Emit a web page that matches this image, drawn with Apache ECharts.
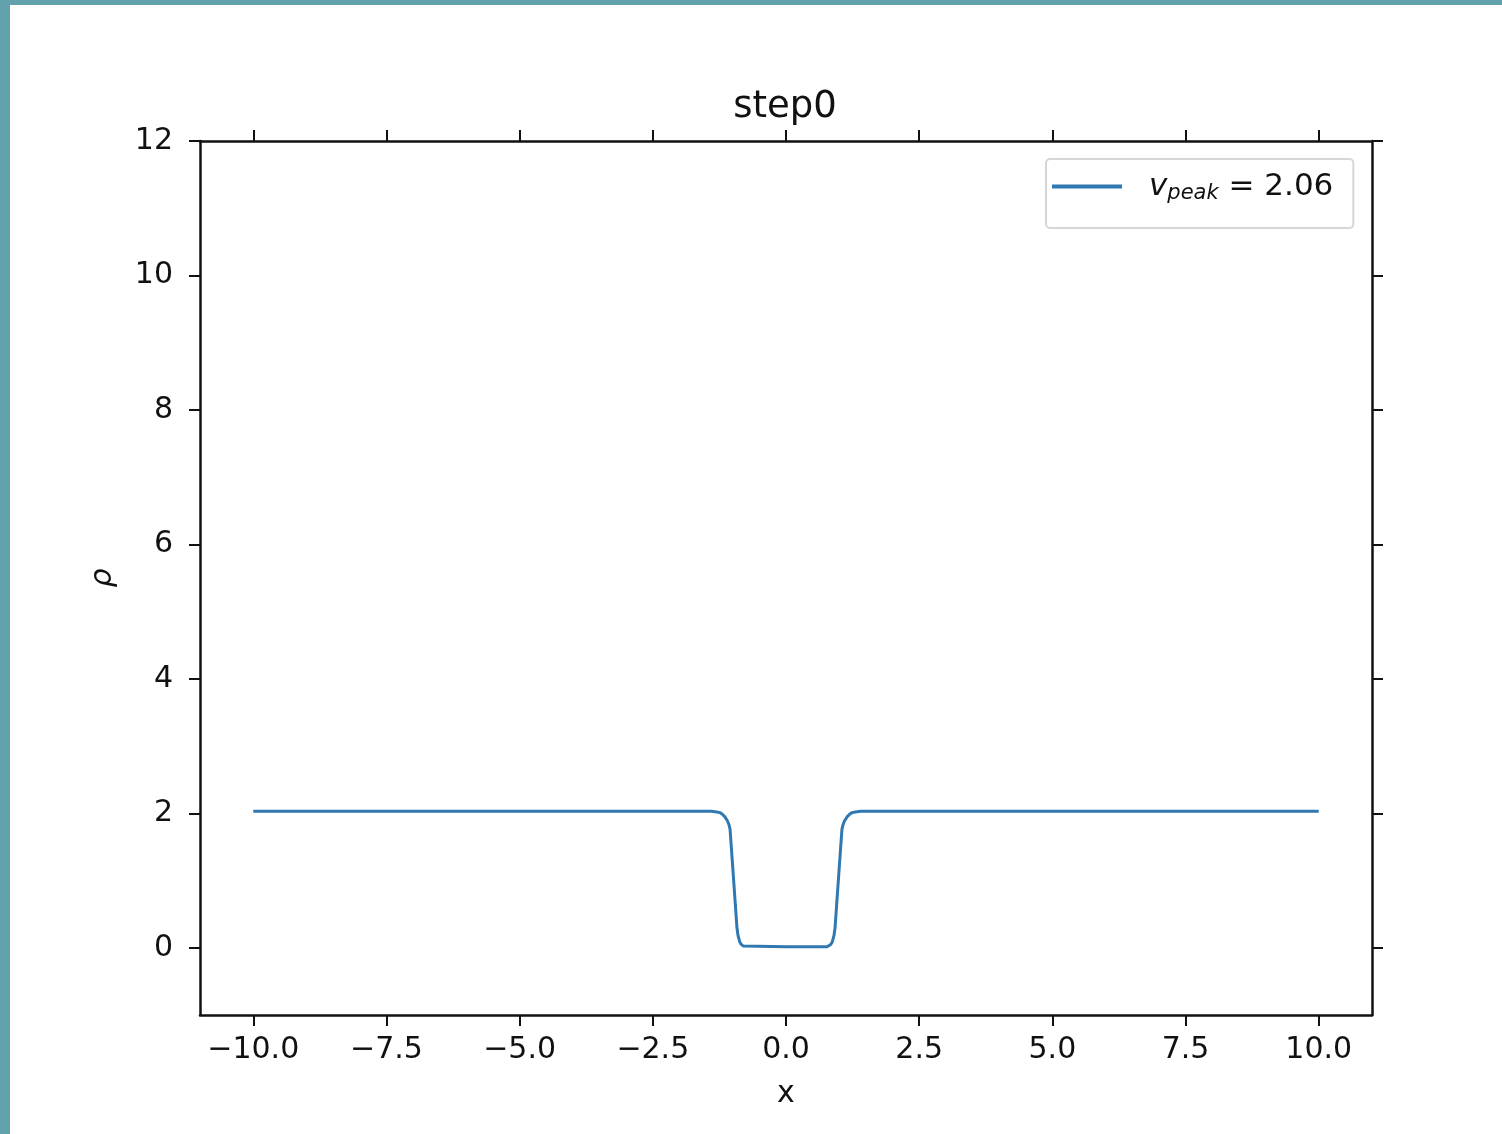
<!DOCTYPE html>
<html>
<head>
<meta charset="utf-8">
<script src="https://cdn.jsdelivr.net/npm/echarts@6/dist/echarts.min.js"></script>
<style>
  body { margin: 0; background: #63a2ad; width: 1502px; height: 1134px; overflow: hidden; }
  #chart { position: absolute; left: 10px; top: 5px; width: 1492px; height: 1129px; background: #fff; }
</style>
</head>
<body>
<div id="chart"></div>
<script>
  // density profile
  const xs = [-10, -2, -1.4, -1.3, -1.24, -1.2, -1.15, -1.1, -1.07, -1.05, -1.0, -0.95, -0.92, -0.9, -0.87, -0.84, -0.8, -0.77, 0,
    0.77, 0.8, 0.84, 0.87, 0.9, 0.92, 0.95, 1.0, 1.05, 1.07, 1.1, 1.15, 1.2, 1.24, 1.3, 1.4, 2, 10]
  const rho = [2.03, 2.03, 2.03, 2.02, 2.01, 1.99, 1.95, 1.89, 1.83, 1.76, 1.2, 0.63, 0.29, 0.18, 0.09, 0.05, 0.025, 0.015, 0.015,
    0.015, 0.025, 0.05, 0.09, 0.18, 0.29, 0.63, 1.2, 1.76, 1.83, 1.89, 1.95, 1.99, 2.01, 2.02, 2.03, 2.03, 2.03]
  const xTicks = [-10, -7.5, -5, -2.5, 0, 2.5, 5, 7.5, 10]
  const yTicks = [0, 2, 4, 6, 8, 10, 12]
  const titleText = 'step0'
  const legendValue = '2.06'

  const font = 'DejaVu Sans'
  const fmtX = v => (v < 0 ? '\u2212' : '') + Math.abs(v).toFixed(1)
  const spine = {show: true, onZero: false, lineStyle: {color: '#111', width: 2.5}}
  const tick = vals => ({show: true, length: 11, customValues: vals, lineStyle: {color: '#111', width: 2}})

  let chart = echarts.init(document.getElementById('chart'))
  chart.setOption({
    animation: false,
    title: {
      text: titleText,
      left: 770, top: 79, textAlign: 'center',
      textStyle: {fontFamily: font, fontSize: 37, fontWeight: 'normal', color: '#111'}
    },
    grid: {left: 190, top: 136, width: 1172, height: 874, containLabel: false},
    legend: {
      left: 1036, top: 154,
      padding: [12, 20, 24, 6],
      borderColor: '#d6d6d6', borderWidth: 2, borderRadius: 4,
      icon: 'rect', itemWidth: 70, itemHeight: 4,
      formatter: () => '{g|}{v|v}{s|peak}{t| = ' + legendValue + '}',
      textStyle: {
        fontFamily: font, fontSize: 31, color: '#111',
        rich: {
          g: {width: 22},
          v: {fontFamily: font, fontStyle: 'italic', fontSize: 31, color: '#111'},
          s: {fontFamily: font, fontStyle: 'italic', fontSize: 21, color: '#111', padding: [14, 0, 0, 0]},
          t: {fontFamily: font, fontSize: 31, color: '#111'}
        }
      },
      data: ['vpeak']
    },
    xAxis: [{
      type: 'value', position: 'bottom', min: -11, max: 11,
      name: 'x', nameLocation: 'middle', nameGap: 64,
      nameTextStyle: {fontFamily: font, fontSize: 30, color: '#111'},
      axisLine: spine, axisTick: tick(xTicks), splitLine: {show: false},
      axisLabel: {customValues: xTicks, formatter: fmtX, margin: 20, fontFamily: font, fontSize: 30, color: '#111'}
    }, {
      type: 'value', position: 'top', min: -11, max: 11,
      axisLine: spine, axisTick: tick(xTicks), splitLine: {show: false},
      axisLabel: {show: false}
    }],
    yAxis: [{
      type: 'value', position: 'left', min: -1, max: 12,
      name: '\u03c1', nameLocation: 'middle', nameGap: 82, nameRotate: 90,
      nameTextStyle: {fontFamily: font, fontStyle: 'italic', fontSize: 30, color: '#111'},
      axisLine: spine, axisTick: tick(yTicks), splitLine: {show: false},
      axisLabel: {customValues: yTicks, margin: 27, fontFamily: font, fontSize: 30, color: '#111'}
    }, {
      type: 'value', position: 'right', min: -1, max: 12,
      axisLine: spine, axisTick: tick(yTicks), splitLine: {show: false},
      axisLabel: {show: false}
    }],
    series: [{
      type: 'line',
      name: 'vpeak',
      xAxisIndex: 0, yAxisIndex: 0,
      showSymbol: false, symbol: 'none',
      itemStyle: {color: '#2f78b1'},
      lineStyle: {color: '#2f78b1', width: 3},
      data: xs.map((x, i) => [x, rho[i]])
    }]
  })
</script>
</body>
</html>
